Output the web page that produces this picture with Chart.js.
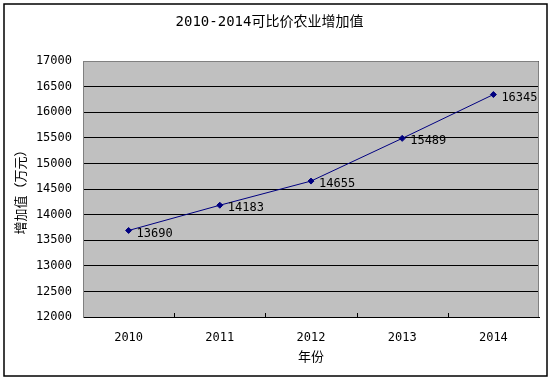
<!DOCTYPE html>
<html><head><meta charset="utf-8">
<script src="https://cdn.jsdelivr.net/npm/chart.js@4/dist/chart.umd.min.js"></script>
<style>html,body{margin:0;padding:0;background:#fff}#wrap{width:553px;height:382px;position:relative}</style>
</head><body><div id="wrap"><canvas id="c" width="553" height="382"></canvas></div>
<script>
const chartTitle = '2010-2014可比价农业增加值';
const categories = ['2010', '2011', '2012', '2013', '2014'];
const values = [13690, 14183, 14655, 15489, 16345];
const yMin = 12000, yMax = 17000, yStep = 500;
const xTitle = '年份';
const yTitle = '增加值（万元）';

const FONT = "'DejaVu Sans Mono','Noto Sans CJK SC',sans-serif";

const decor = {
  id: 'decor',
  beforeDraw(chart) {
    const ctx = chart.ctx, a = chart.chartArea;
    ctx.save();
    ctx.fillStyle = '#ffffff';
    ctx.fillRect(0, 0, chart.width, chart.height);
    ctx.strokeStyle = '#000000';
    ctx.lineWidth = 1.5;
    ctx.strokeRect(4, 4, 543, 372);
    ctx.fillStyle = '#c0c0c0';
    ctx.fillRect(a.left, a.top, a.right - a.left, a.bottom - a.top);
    ctx.restore();
  },
  afterDatasetsDraw(chart) {
    const ctx = chart.ctx, a = chart.chartArea;
    const x = chart.scales.x;
    ctx.save();
    ctx.strokeStyle = '#808080';
    ctx.lineWidth = 1;
    ctx.beginPath();
    ctx.moveTo(a.left + 0.5, a.bottom);
    ctx.lineTo(a.left + 0.5, a.top + 0.5);
    ctx.lineTo(a.right - 0.5, a.top + 0.5);
    ctx.lineTo(a.right - 0.5, a.bottom);
    ctx.stroke();
    ctx.strokeStyle = '#000000';
    ctx.beginPath();
    for (let i = 1; i < categories.length; i++) {
      const px = Math.round((x.getPixelForTick(i) + x.getPixelForTick(i - 1)) / 2) + 0.5;
      ctx.moveTo(px, a.bottom);
      ctx.lineTo(px, a.bottom - 4);
    }
    ctx.stroke();
    const meta = chart.getDatasetMeta(0);
    ctx.fillStyle = '#000000';
    ctx.font = '12px ' + FONT;
    ctx.textAlign = 'left';
    ctx.textBaseline = 'middle';
    meta.data.forEach((pt, i) => {
      ctx.fillText(String(values[i]), pt.x + 8, pt.y + 3);
    });
    ctx.restore();
  }
};

new Chart(document.getElementById('c'), {
  type: 'line',
  data: {
    labels: categories,
    datasets: [{
      data: values,
      borderColor: '#000080',
      backgroundColor: '#000080',
      borderWidth: 1,
      pointStyle: 'rectRot',
      pointRadius: 3,
      pointHoverRadius: 3,
      pointBackgroundColor: '#000080',
      pointBorderColor: '#000080',
      tension: 0,
      fill: false
    }]
  },
  options: {
    responsive: false,
    devicePixelRatio: 1,
    animation: false,
    layout: { padding: { left: 0, right: 14, top: 0, bottom: 0 } },
    plugins: {
      legend: { display: false },
      tooltip: { enabled: false },
      title: {
        display: true,
        text: chartTitle,
        color: '#000000',
        font: { family: FONT, size: 14, weight: 'normal', lineHeight: 1.2 },
        padding: { top: 13.6, bottom: 30.6 }
      }
    },
    scales: {
      x: {
        offset: true,
        afterFit(scale) { scale.height = 65; },
        grid: { display: false, drawTicks: false },
        border: { display: true, color: '#000000', width: 1 },
        ticks: { color: '#000000', padding: 13.8, font: { family: FONT, size: 12 }, maxRotation: 0 },
        title: {
          display: true, text: xTitle, color: '#000000',
          font: { family: FONT, size: 13, lineHeight: 1.2 },
          padding: { top: 0, bottom: 16.5 }
        }
      },
      y: {
        min: yMin, max: yMax,
        afterFit(scale) { scale.width = 83; },
        grid: { color: '#000000', lineWidth: 1, drawTicks: false },
        border: { display: true, color: '#808080', width: 1 },
        ticks: {
          stepSize: yStep, color: '#000000', padding: 11,
          font: { family: FONT, size: 12 },
          callback: (v) => String(v)
        },
        title: {
          display: true, text: yTitle, color: '#000000',
          font: { family: FONT, size: 13, lineHeight: 1.2 },
          padding: { top: 14.2, bottom: 0 }
        }
      }
    }
  },
  plugins: [decor]
});
</script>
</body></html>
